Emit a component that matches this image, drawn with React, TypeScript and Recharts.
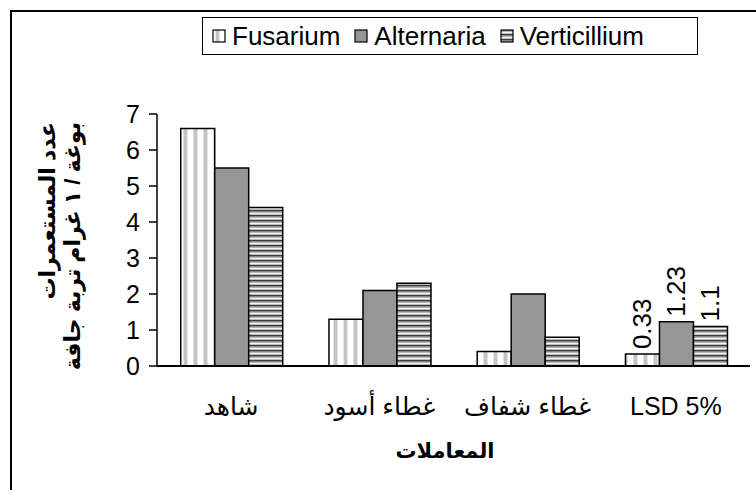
import React from 'react';
import { BarChart, Bar, XAxis, YAxis, LabelList, Label } from 'recharts';

const categories = ['شاهد', 'غطاء أسود', 'غطاء شفاف', 'LSD 5%'];
const fusarium = [6.6, 1.3, 0.4, 0.33];
const alternaria = [5.5, 2.1, 2.0, 1.23];
const verticillium = [4.4, 2.3, 0.8, 1.1];
const seriesKeys = ['fusarium', 'alternaria', 'verticillium'];
const seriesNames = ['Fusarium', 'Alternaria', 'Verticillium'];
const yTicks = [0, 1, 2, 3, 4, 5, 6, 7];
const boundaryTicks = [0, 1, 2, 3, 4];
const yTitleLines = ['عدد المستعمرات', 'بوغة / ١ غرام تربة جافة'];
const xTitle = 'المعاملات';
const lsdCategory = 'LSD 5%';

const data = categories.map((c, i) => ({
  name: c,
  fusarium: fusarium[i],
  alternaria: alternaria[i],
  verticillium: verticillium[i],
}));

const FONT = '"Liberation Sans", Arial, "DejaVu Sans", sans-serif';
const fills = ['url(#patFus)', '#969696', 'url(#patVer)'];

const PatternDefs = ({ prefix }: { prefix: string }) => (
  <defs>
    <pattern id={`${prefix}Fus`} patternUnits="userSpaceOnUse" width="10" height="10">
      <rect x="0" y="0" width="10" height="10" fill="#ffffff" />
      <rect x="3" y="0" width="1" height="10" fill="#e4e4e4" />
      <rect x="4" y="0" width="3" height="10" fill="#c4c4c4" />
      <rect x="7" y="0" width="1" height="10" fill="#e4e4e4" />
    </pattern>
    <pattern id={`${prefix}Ver`} patternUnits="userSpaceOnUse" width="5" height="5">
      <rect x="0" y="0" width="5" height="5" fill="#f4f4f4" />
      <rect x="0" y="0" width="5" height="1.6" fill="#3c3c3c" />
      <rect x="0" y="1.6" width="5" height="1" fill="#8a8a8a" />
      <rect x="0" y="4" width="5" height="1" fill="#bdbdbd" />
    </pattern>
  </defs>
);

const LsdLabel = (props: any) => {
  const { x, y, width, value, index } = props;
  if (categories[index] !== lsdCategory) return null;
  const cx = Number(x) + Number(width) / 2;
  const ty = Number(y) - 5;
  return (
    <text
      x={cx}
      y={ty}
      transform={`rotate(-90 ${cx} ${ty})`}
      textAnchor="start"
      dominantBaseline="central"
      fontSize={26}
      fill="#000"
      fontFamily={FONT}
    >
      {String(value)}
    </text>
  );
};

const YTitle = () => (
  <g>
    {yTitleLines.map((t, i) => {
      const x = 47 + i * 25;
      const y = 122;
      return (
        <text
          key={i}
          x={x}
          y={y}
          transform={`rotate(-90 ${x} ${y})`}
          textAnchor="end"
          dominantBaseline="central"
          fontSize={22}
          fontWeight="bold"
          fill="#000"
          fontFamily={FONT}
        >
          {t}
        </text>
      );
    })}
  </g>
);

const XTitle = () => (
  <text x={445} y={450} textAnchor="middle" dominantBaseline="central" fontSize={21} fontWeight="bold" fill="#000" fontFamily={FONT}>
    {xTitle}
  </text>
);

const LegendIcon = ({ i }: { i: number }) => {
  const prefix = `leg${i}`;
  const fill = i === 0 ? `url(#${prefix}Fus)` : i === 1 ? '#969696' : `url(#${prefix}Ver)`;
  return (
    <svg width={14} height={14} style={{ display: 'block' }}>
      <PatternDefs prefix={prefix} />
      <rect x={1} y={1} width={12} height={12} fill={fill} stroke="#000" strokeWidth={1.2} />
    </svg>
  );
};

export default function App() {
  return (
    <div style={{ position: 'absolute', left: 0, top: 0, width: 756, height: 490, overflow: 'hidden', background: '#fff', fontFamily: FONT }}>
      <div style={{ position: 'absolute', left: 10, top: 10, width: 800, height: 600, border: '2px solid #000', boxSizing: 'border-box' }} />
      <div
        style={{
          position: 'absolute',
          left: 202,
          top: 17,
          width: 496,
          height: 38,
          border: '1.5px solid #000',
          boxSizing: 'border-box',
          display: 'flex',
          alignItems: 'center',
          paddingLeft: 9,
          background: '#fff',
          zIndex: 2,
        }}
      >
        {seriesNames.map((n, i) => (
          <div key={n} style={{ display: 'flex', alignItems: 'center', marginRight: 14 }}>
            <LegendIcon i={i} />
            <span style={{ fontSize: 26, marginLeft: 6, lineHeight: '30px', color: '#000' }}>{n}</span>
          </div>
        ))}
      </div>
      <div style={{ position: 'absolute', left: 0, top: 0 }}>
        <BarChart
          width={756}
          height={490}
          data={data}
          margin={{ top: 114, right: 6, bottom: 64, left: 97 }}
          barCategoryGap="16%"
          barGap={0}
        >
          <PatternDefs prefix="pat" />
          <XAxis
            xAxisId="num"
            type="number"
            domain={[0, 4]}
            ticks={boundaryTicks}
            allowDataOverflow
            height={0}
            axisLine={false}
            tickSize={8}
            tickLine={{ stroke: '#000', strokeWidth: 1.5 }}
            tickFormatter={() => ''}
          />
          <XAxis
            xAxisId="cat"
            dataKey="name"
            height={60}
            tickLine={false}
            tickSize={0}
            tickMargin={31}
            axisLine={{ stroke: '#000', strokeWidth: 2 }}
            tick={{ fill: '#000', fontSize: 25, fontFamily: FONT }}
            interval={0}
          >
            <Label content={<XTitle />} />
          </XAxis>
          <YAxis
            width={60}
            domain={[0, 7]}
            ticks={yTicks}
            interval={0}
            tickSize={8}
            tickMargin={9}
            axisLine={{ stroke: '#000', strokeWidth: 1.5 }}
            tickLine={{ stroke: '#000', strokeWidth: 1.5 }}
            tick={{ fill: '#000', fontSize: 25, fontFamily: FONT }}
          >
            <Label content={<YTitle />} />
          </YAxis>
          {seriesKeys.map((k, i) => (
            <Bar key={k} xAxisId="cat" dataKey={k} name={seriesNames[i]} fill={fills[i]} stroke="#000" strokeWidth={1.5} isAnimationActive={false}>
              <LabelList dataKey={k} content={<LsdLabel />} />
            </Bar>
          ))}
        </BarChart>
      </div>
    </div>
  );
}
